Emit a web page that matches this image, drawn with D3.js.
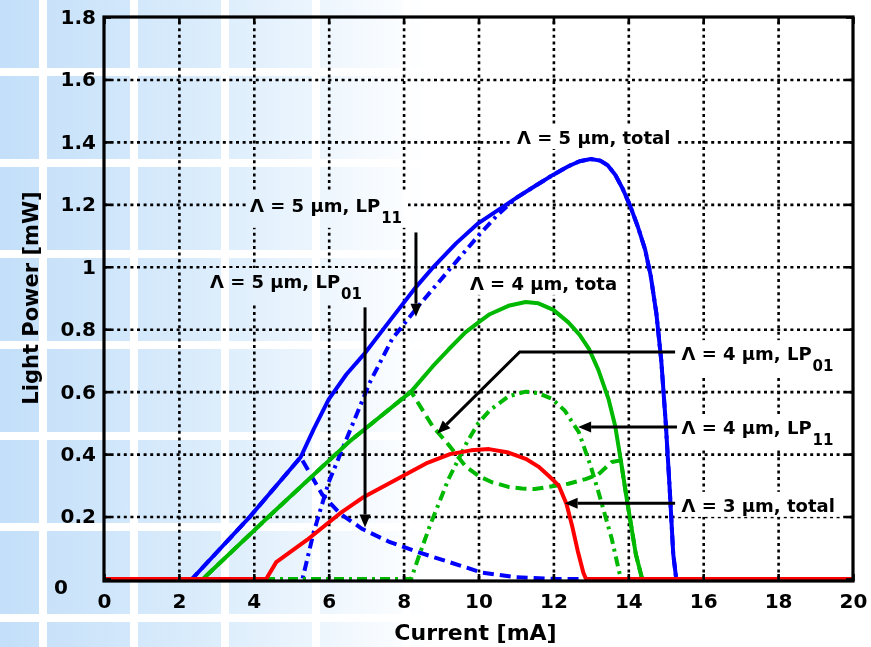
<!DOCTYPE html>
<html>
<head>
<meta charset="utf-8">
<title>light power</title>
<style>
  body { margin: 0; background: #fff; }
  text { font-family: "DejaVu Sans", sans-serif; font-weight: bold; fill: #000; }
</style>
</head>
<body>
<svg id="chart"></svg>
<script src="https://cdn.jsdelivr.net/npm/d3@7/dist/d3.min.js"></script>
<script>
// axis ticks
var xTicks = [0, 2, 4, 6, 8, 10, 12, 14, 16, 18, 20];
var yTicks = [0, 0.2, 0.4, 0.6, 0.8, 1, 1.2, 1.4, 1.6, 1.8];
var yTickLabels = ["0", "0.2", "0.4", "0.6", "0.8", "1", "1.2", "1.4", "1.6", "1.8"];

// [current mA, power mW]
var lam5Total = [[0,0],[2.35,0],[3.9,0.2],[5.25,0.39],[5.6,0.48],[6,0.575],[6.47,0.655],[6.97,0.724],[7.65,0.83],[8.33,0.935],[8.8,1.0],[9.4,1.075],[10,1.14],[10.5,1.18],[11,1.22],[11.5,1.258],[12,1.295],[12.4,1.322],[12.7,1.338],[13,1.345],[13.25,1.34],[13.45,1.325],[13.65,1.295],[13.85,1.25],[14.05,1.195],[14.25,1.13],[14.45,1.055],[14.6,0.97],[14.75,0.85],[14.88,0.7],[15,0.5],[15.1,0.3],[15.2,0.08],[15.28,0],[20,0]];
var lam5LP01 = [[0,0],[2.35,0],[3.9,0.2],[5.25,0.39],[5.83,0.27],[6.3,0.21],[6.9,0.16],[7.6,0.12],[8.33,0.088],[9.2,0.055],[10.1,0.02],[11,0.006],[12,0],[20,0]];
var lam5LP11 = [[0,0],[5.3,0],[5.6,0.15],[6,0.31],[6.55,0.47],[7.1,0.63],[7.7,0.77],[8.4,0.875],[9.5,1.03],[10,1.1],[10.5,1.165],[11,1.22],[11.5,1.258],[12,1.295],[12.4,1.322],[12.7,1.338],[13,1.345],[13.25,1.34],[13.45,1.325],[13.65,1.295],[13.85,1.25],[14.05,1.195],[14.25,1.13],[14.45,1.055],[14.6,0.97],[14.75,0.85],[14.88,0.7],[15,0.5],[15.1,0.3],[15.2,0.08],[15.28,0],[20,0]];
var lam4Total = [[0,0],[2.64,0],[4.4,0.2],[6.55,0.44],[8.2,0.6],[8.77,0.68],[9.2,0.735],[9.65,0.79],[10,0.822],[10.3,0.848],[10.8,0.875],[11.26,0.887],[11.6,0.883],[12,0.862],[12.4,0.822],[12.7,0.782],[12.95,0.737],[13.2,0.67],[13.47,0.577],[13.65,0.49],[13.8,0.38],[13.96,0.256],[14.2,0.08],[14.37,0],[20,0]];
var lam4LP01 = [[0,0],[2.64,0],[4.4,0.2],[6.55,0.44],[8.2,0.6],[8.77,0.49],[9.2,0.43],[9.66,0.36],[10,0.33],[10.36,0.31],[10.8,0.295],[11.16,0.29],[11.5,0.288],[11.88,0.295],[12.4,0.305],[12.86,0.32],[13.2,0.335],[13.56,0.375],[13.8,0.38],[13.96,0.256],[14.2,0.08],[14.37,0],[20,0]];
var lam4LP11 = [[0,0],[8.2,0],[8.4,0.07],[8.7,0.17],[9.2,0.32],[9.7,0.44],[10,0.5],[10.3,0.54],[10.8,0.585],[11.26,0.6],[11.6,0.595],[11.96,0.577],[12.3,0.54],[12.68,0.47],[13,0.36],[13.2,0.28],[13.56,0.128],[13.8,0],[20,0]];
var lam3Total = [[0,0],[4.33,0],[4.6,0.054],[5.42,0.125],[6.3,0.21],[6.9,0.26],[7.98,0.33],[8.6,0.37],[9.24,0.4],[9.8,0.412],[10.28,0.416],[10.8,0.405],[11.26,0.385],[11.6,0.36],[11.88,0.33],[12.14,0.3],[12.35,0.24],[12.5,0.17],[12.65,0.09],[12.8,0.02],[12.87,0],[20,0]];

var W = 871, H = 647;
var svg = d3.select("#chart").attr("width", W).attr("height", H);

var x = d3.scaleLinear().domain([0, 20]).range([104, 853]);
var y = d3.scaleLinear().domain([0, 1.8]).range([579, 17]);

var defs = svg.append("defs");
// tiled background fading to white
var grad = defs.append("linearGradient")
    .attr("id", "bgfade").attr("gradientUnits", "userSpaceOnUse")
    .attr("x1", 0).attr("x2", 430).attr("y1", 0).attr("y2", 0);
grad.append("stop").attr("offset", 0).attr("stop-color", "#c3dff9");
grad.append("stop").attr("offset", 0.5).attr("stop-color", "#dcedfc");
grad.append("stop").attr("offset", 1).attr("stop-color", "#ffffff");

// grid is knocked out behind the labels
var gridMask = defs.append("mask").attr("id", "gridmask").attr("maskUnits", "userSpaceOnUse")
    .attr("x", 0).attr("y", 0).attr("width", W).attr("height", H);
gridMask.append("rect").attr("width", W).attr("height", H).attr("fill", "#fff");

svg.append("rect").attr("width", W).attr("height", H).attr("fill", "url(#bgfade)");
var bands = svg.append("g").attr("fill", "#fff");
d3.range(0, 6).forEach(function(i) {
    bands.append("rect").attr("x", 39 + i * 91).attr("y", 0).attr("width", 8).attr("height", H);
});
d3.range(0, 7).forEach(function(i) {
    bands.append("rect").attr("x", 0).attr("y", 68 + i * 91).attr("width", 460).attr("height", 8);
});

// dotted grid
var gridStyle = function(g) {
    g.select(".domain").remove();
    g.selectAll("line").attr("stroke", "#000").attr("stroke-width", 2.6).attr("stroke-dasharray", "3,3.6");
};
var grid = svg.append("g").attr("mask", "url(#gridmask)");
grid.append("g").attr("transform", "translate(0," + y(0) + ")")
    .call(d3.axisBottom(x).tickValues(xTicks.slice(1, -1)).tickSize(-(y(0) - y(1.8))).tickFormat(""))
    .call(gridStyle);
grid.append("g").attr("transform", "translate(" + x(0) + ",0)")
    .call(d3.axisLeft(y).tickValues(yTicks.slice(1, -1)).tickSize(-(x(20) - x(0))).tickFormat(""))
    .call(gridStyle);

// curves
var line = d3.line()
    .x(function(d) { return x(d[0]); })
    .y(function(d) { return y(d[1]); });

var series = [
    { data: lam5LP11, color: "#0000ff", dash: "10,5,3,5" },
    { data: lam4LP11, color: "#00b800", dash: "10,5,3,5" },
    { data: lam5LP01, color: "#0000ff", dash: "11,6" },
    { data: lam4LP01, color: "#00b800", dash: "11,6" },
    { data: lam5Total, color: "#0000ff", dash: null },
    { data: lam4Total, color: "#00b800", dash: null },
    { data: lam3Total, color: "#ff0000", dash: null }
];
svg.append("g").selectAll("path").data(series).enter().append("path")
    .attr("d", function(d) { return line(d.data); })
    .attr("fill", "none")
    .attr("stroke", function(d) { return d.color; })
    .attr("stroke-width", 4)
    .attr("stroke-linejoin", "round")
    .attr("stroke-dasharray", function(d) { return d.dash; });

// frame and inner ticks
svg.append("rect")
    .attr("x", x(0)).attr("y", y(1.8))
    .attr("width", x(20) - x(0)).attr("height", y(0) - y(1.8) + 2)
    .attr("fill", "none").attr("stroke", "#000").attr("stroke-width", 3.2);

var tickStyle = function(g) {
    g.select(".domain").remove();
    g.selectAll("line").attr("stroke", "#000").attr("stroke-width", 2.6);
    g.selectAll("text").attr("fill", "#000").style("font-size", "20px")
        .style("font-family", "'DejaVu Sans', sans-serif").style("font-weight", "bold");
};
svg.append("g").attr("transform", "translate(0," + (y(0) + 2) + ")")
    .call(d3.axisBottom(x).tickValues(xTicks).tickSize(-7).tickPadding(13).tickFormat(d3.format("d")))
    .call(tickStyle);
var yAxis = svg.append("g").attr("transform", "translate(" + x(0) + ",0)")
    .call(d3.axisLeft(y).tickValues(yTicks).tickSize(-7).tickPadding(8)
        .tickFormat(function(d, i) { return yTickLabels[i]; }))
    .call(tickStyle);
yAxis.selectAll(".tick").filter(function(d) { return d === 0; })
    .select("text").attr("x", -36).attr("dy", "0.7em");
svg.append("g").attr("transform", "translate(" + x(20) + ",0)")
    .call(d3.axisRight(y).tickValues(yTicks).tickSize(-7).tickFormat(""))
    .call(tickStyle);
svg.append("g").attr("transform", "translate(0," + y(1.8) + ")")
    .call(d3.axisTop(x).tickValues(xTicks).tickSize(-7).tickFormat(""))
    .call(tickStyle);

// axis titles
svg.append("text")
    .attr("x", (x(0) + x(20)) / 2 - 3).attr("y", 640)
    .attr("text-anchor", "middle").style("font-size", "22px")
    .text("Current [mA]");
svg.append("text")
    .attr("transform", "translate(38," + (y(0) + y(1.8)) / 2 + ") rotate(-90)")
    .attr("text-anchor", "middle").style("font-size", "21px")
    .text("Light Power [mW]");

// annotations: text anchor point and arrow path in data units
var notes = [
    { label: "Λ = 5 µm, total", sub: "", at: [11.03, 1.393], arrow: null },
    { label: "Λ = 5 µm, LP", sub: "11", at: [3.9, 1.176], arrow: [[8.33, 1.11], [8.33, 0.84]] },
    { label: "Λ = 5 µm, LP", sub: "01", at: [2.83, 0.932], arrow: [[6.97, 0.87], [6.97, 0.165]] },
    { label: "Λ = 4 µm, tota", sub: "", at: [9.77, 0.926], arrow: null },
    { label: "Λ = 4 µm, LP", sub: "01", at: [15.42, 0.701], arrow: [[15.25, 0.727], [11.1, 0.727], [8.9, 0.466]] },
    { label: "Λ = 4 µm, LP", sub: "11", at: [15.42, 0.464], arrow: [[15.3, 0.487], [12.66, 0.487]] },
    { label: "Λ = 3 µm, total", sub: "", at: [15.42, 0.215], arrow: [[15.25, 0.243], [12.3, 0.243]] }
];

var noteG = svg.append("g");
notes.forEach(function(n) {
    var t = noteG.append("text")
        .attr("x", x(n.at[0])).attr("y", y(n.at[1]))
        .style("font-size", "18px");
    t.append("tspan").text(n.label);
    if (n.sub) {
        t.append("tspan").attr("dy", 11).attr("dx", 1).style("font-size", "15px").text(n.sub);
    }
    var b = t.node().getBBox();
    gridMask.append("rect").attr("fill", "#000")
        .attr("x", b.x - 4).attr("y", b.y - 3).attr("width", b.width + 10).attr("height", b.height + 4);
});

notes.filter(function(n) { return n.arrow; }).forEach(function(n) {
    var pts = n.arrow;
    var p1 = pts[pts.length - 2], p2 = pts[pts.length - 1];
    var x1 = x(p1[0]), y1 = y(p1[1]), x2 = x(p2[0]), y2 = y(p2[1]);
    var ang = Math.atan2(y2 - y1, x2 - x1);
    var len = 13, half = 5.5;
    var bx = x2 - len * Math.cos(ang), by = y2 - len * Math.sin(ang);
    var shaft = pts.slice(0, -1).map(function(p) { return [x(p[0]), y(p[1])]; });
    shaft.push([bx, by]);
    noteG.append("path")
        .attr("d", d3.line()(shaft))
        .attr("fill", "none").attr("stroke", "#000").attr("stroke-width", 3);
    noteG.append("path")
        .attr("d", "M" + x2 + "," + y2 +
            "L" + (bx + half * Math.sin(ang)) + "," + (by - half * Math.cos(ang)) +
            "L" + (bx - half * Math.sin(ang)) + "," + (by + half * Math.cos(ang)) + "Z")
        .attr("fill", "#000");
});
</script>
</body>
</html>
